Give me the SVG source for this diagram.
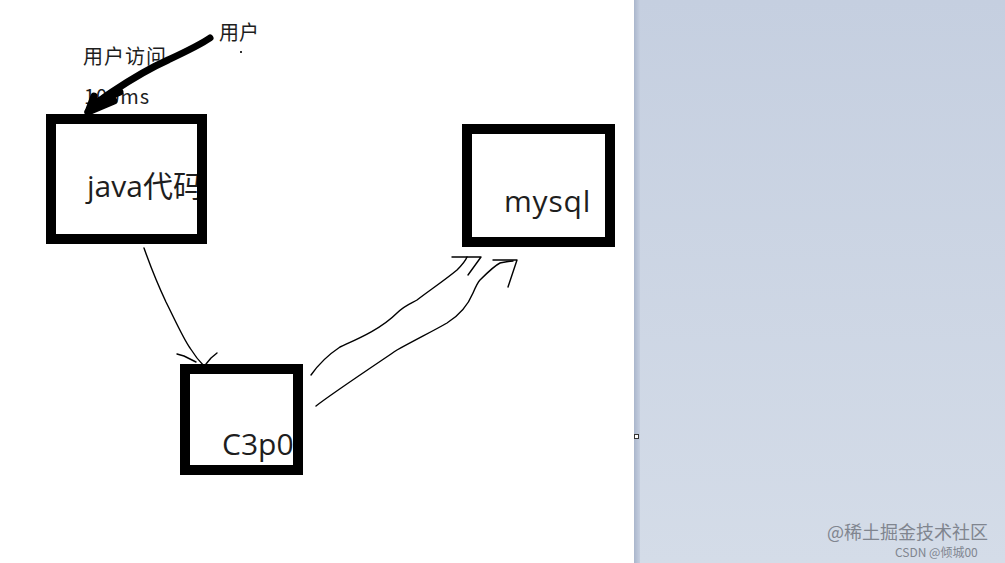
<svg xmlns="http://www.w3.org/2000/svg" width="1005" height="563" viewBox="0 0 1005 563">
<defs>
<linearGradient id="bg" x1="0" y1="0" x2="0" y2="1">
<stop offset="0" stop-color="#c5cfe0"/>
<stop offset="1" stop-color="#d4dce8"/>
</linearGradient>
<linearGradient id="edge" x1="0" y1="0" x2="1" y2="0">
<stop offset="0" stop-color="#aab6cc"/>
<stop offset="1" stop-color="#c5cfe0"/>
</linearGradient>
<clipPath id="cj"><rect x="56" y="124" width="141" height="110"/></clipPath>
<clipPath id="cm"><rect x="472" y="134" width="133" height="103"/></clipPath>
<clipPath id="cc"><rect x="190" y="374" width="103" height="92"/></clipPath>
<style>
.box{fill:#fff;stroke:#000;stroke-width:10}
.lbl{font-family:"Open Sans","Liberation Sans","Noto Sans CJK SC",sans-serif;font-size:30px;fill:#1e1e1e}
.note{font-family:"Noto Sans CJK SC","Liberation Sans",sans-serif;font-size:20px;fill:#1e1e1e}
.thin{fill:none;stroke:#000;stroke-width:1.4;stroke-linecap:round;stroke-linejoin:round}
.thick{fill:none;stroke:#000;stroke-width:7;stroke-linecap:round;stroke-linejoin:round}
.wm{font-family:"Noto Sans CJK SC","Liberation Sans",sans-serif;fill:#80858f}
</style>
</defs>
<rect x="0" y="0" width="1005" height="563" fill="url(#bg)"/>
<rect x="0" y="0" width="634" height="563" fill="#fff"/>
<rect x="634" y="0" width="6" height="563" fill="url(#edge)"/>
<rect x="634.5" y="434.5" width="4" height="4" fill="#fff" stroke="#333" stroke-width="1"/>

<g id="node-java">
<rect class="box" x="51" y="119" width="151" height="120"/>
<text class="lbl" x="87" y="197" clip-path="url(#cj)">java代码</text>
</g>
<g id="node-mysql">
<rect class="box" x="467" y="129" width="143" height="113"/>
<text class="lbl" x="504" y="212" letter-spacing="0.8" clip-path="url(#cm)">mysql</text>
</g>
<g id="node-c3p0">
<rect class="box" x="185" y="369" width="113" height="101"/>
<text class="lbl" x="222" y="455" clip-path="url(#cc)">C3p0</text>
</g>
<g id="node-user">
<text class="note" x="219" y="40" font-size="21">用户</text>
<rect x="240" y="51" width="2" height="2" fill="#333"/>
</g>
<g id="note-access">
<text class="note" x="83" y="64" font-size="21" letter-spacing="1">用户访问</text>
<text class="note" x="84" y="104" letter-spacing="1">100ms</text>
</g>

<g id="connectors">
<path class="thick" d="M210,38 C200,45 185,52 168,60 C150,68 130,80 112,92 C100,100 92,106 88,112"/>
<path class="thick" d="M88,112 L94,96 M88,112 L114,101 M92,104 L120,92"/>
<path class="thin" d="M144,248 C150,265 158,285 166,302 C175,320 183,338 190,348 C195,356 200,362 204,366"/>
<path class="thin" d="M177,354 L184,356 L196,362 M217,353 L211,358 L206,364"/>
<path class="thin" d="M311,375 C318,365 328,355 340,347 C355,340 380,330 397,313 C405,305 412,303 417,300 C430,290 445,280 457,270 C462,265 465,262 467,257"/>
<path class="thin" d="M452,257 L481,257 L468,275"/>
<path class="thin" d="M316,406 C330,395 360,375 397,350 C415,340 435,330 447,323 C460,315 468,305 473,293 C476,286 478,282 480,280 C488,272 494,266 500,263 C505,262 509,261 513,261"/>
<path class="thin" d="M493,260 L517,260 L508,287"/>
</g>

<g id="watermark">
<text class="wm" x="827" y="539" font-size="18">@稀土掘金技术社区</text>
<text class="wm" x="895" y="557" font-size="12">CSDN @倾城00</text>
</g>
</svg>
